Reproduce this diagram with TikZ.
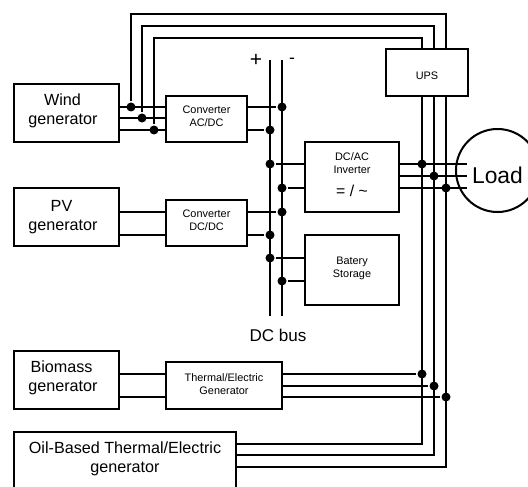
\documentclass[tikz,border=0pt]{standalone}
\usepackage{fontspec}
\setmainfont{Liberation Sans}
\usepackage{tikz}
\tikzset{
  block/.style={shape=rectangle,draw,line width=1.15pt,outer sep=0pt,align=center},
  genbox/.style={block,minimum width=2.1cm,minimum height=1.16cm,font=\fontsize{9.2}{10.8}\selectfont},
  smallbox/.style={block,font=\fontsize{6.2}{7.4}\selectfont},
  jdot/.style={shape=circle,fill=black,inner sep=0pt,minimum size=0.18cm}
}

\begin{document}
\begin{tikzpicture}[line width=1.15pt]
\useasboundingbox (0,0) rectangle (10.56,9.72);

\path (1.33,7.46) node (wind) [genbox,text depth=4.2pt] {Wind\kern0.16cm\\generator\kern0.14cm};
\path (1.33,5.38) node (pv) [genbox] {PV\kern0.2cm\\generator\kern0.14cm};
\path (1.33,2.12) node (biom) [genbox,text depth=4.2pt] {Biomass\kern0.2cm\\generator\kern0.14cm};
\path (2.50,0.48) node (oil) [genbox,minimum width=4.44cm,minimum height=1.2cm,text depth=5.3pt] {Oil-Based Thermal/Electric\\generator};

\path (4.13,7.34) node (conva) [smallbox,minimum width=1.62cm,minimum height=0.92cm,text depth=2.8pt] {Converter\\AC/DC};
\path (4.13,5.26) node (convd) [smallbox,minimum width=1.62cm,minimum height=0.92cm,text depth=2.8pt] {Converter\\DC/DC};
\path (4.48,2.01) node (therm) [smallbox,minimum width=2.32cm,minimum height=0.94cm,text depth=2pt] {Thermal/Electric\\Generator};
\path (7.04,6.18) node (inv) [smallbox,minimum width=1.88cm,minimum height=1.4cm,text depth=2.5pt] {DC/AC\\Inverter\\[0.2cm]{\fontsize{9}{9}\selectfont = / \textasciitilde}};
\path (7.04,4.32) node (batt) [smallbox,minimum width=1.88cm,minimum height=1.4cm,text depth=3pt] {Batery\\Storage};
\path (8.54,8.27) node (ups) [smallbox,minimum width=1.64cm,minimum height=0.94cm,text height=7.9pt] {UPS};
\path (9.95,6.31) node (load) [shape=circle,draw,line width=1.15pt,inner sep=0pt,outer sep=0pt,minimum size=1.66cm,text height=15pt,font=\fontsize{13}{13}\selectfont] {Load};

\path (5.12,8.52) node (plus) {\fontsize{12}{12}\selectfont +};
\path (5.84,8.50) node (minus) {\fontsize{10}{10}\selectfont -};
\path (5.56,3.02) node (dcbus) {\fontsize{9.7}{10}\selectfont DC bus};

% bus
\coordinate (ptop) at (5.40,8.52);
\coordinate (pbot) at (5.40,3.40);
\coordinate (mtop) at (5.64,8.52);
\coordinate (mbot) at (5.64,3.40);
\draw (ptop) to (pbot);
\draw (mtop) to (mbot);

% junctions
\path (2.62,7.58) node (wa) [jdot] {};
\path (2.84,7.36) node (wb) [jdot] {};
\path (3.08,7.12) node (wc) [jdot] {};
\path (5.64,7.58) node (ca1) [jdot] {};
\path (5.40,7.12) node (ca2) [jdot] {};
\path (5.64,5.48) node (cd1) [jdot] {};
\path (5.40,5.02) node (cd2) [jdot] {};
\path (5.40,6.44) node (in1) [jdot] {};
\path (5.64,5.96) node (in2) [jdot] {};
\path (5.40,4.56) node (ba1) [jdot] {};
\path (5.64,4.10) node (ba2) [jdot] {};
\path (8.44,6.44) node (ia) [jdot] {};
\path (8.68,6.20) node (ib) [jdot] {};
\path (8.92,5.96) node (ic) [jdot] {};
\path (8.44,2.24) node (ta) [jdot] {};
\path (8.68,2.00) node (tb) [jdot] {};
\path (8.92,1.78) node (tc) [jdot] {};

% wind and converter
\draw (wind.east |- wa) to (conva.west |- wa);
\draw (wind.east |- wb) to (conva.west |- wb);
\draw (wind.east |- wc) to (conva.west |- wc);
\draw (conva.east |- ca1) to (ca1);
\draw (conva.east |- ca2) to (ca2);

% pv and converter
\coordinate (pa) at (3,5.48);
\coordinate (pb) at (3,5.02);
\draw (pv.east |- pa) to (convd.west |- pa);
\draw (pv.east |- pb) to (convd.west |- pb);
\draw (convd.east |- cd1) to (cd1);
\draw (convd.east |- cd2) to (cd2);

% inverter, battery
\draw (in1) to (inv.west |- in1);
\draw (in2) to (inv.west |- in2);
\draw (ba1) to (batt.west |- ba1);
\draw (ba2) to (batt.west |- ba2);
\coordinate (la) at (9.34,6.44);
\coordinate (lb) at (9.34,6.20);
\coordinate (lc) at (9.34,5.96);
\draw (inv.east |- la) to (la);
\draw (inv.east |- lb) to (lb);
\draw (inv.east |- lc) to (lc);

% biomass and thermal
\coordinate (ga) at (3,2.24);
\coordinate (gb) at (3,1.78);
\draw (biom.east |- ga) to (therm.west |- ga);
\draw (biom.east |- gb) to (therm.west |- gb);
\draw (therm.east |- ta) to (ta);
\draw (therm.east |- tb) to (tb);
\draw (therm.east |- tc) to (tc);

% feeds to the ups
\coordinate (ka) at (8.92,9.44);
\coordinate (kb) at (8.68,9.20);
\coordinate (kc) at (8.44,8.96);
\draw (wa) |- (ka) -- (ups.north -| ka);
\draw (wb) |- (kb) -- (ups.north -| kb);
\draw (wc) |- (kc) -- (ups.north -| kc);

% oil and ups output
\coordinate (oa) at (8.44,0.84);
\coordinate (ob) at (8.68,0.62);
\coordinate (oc) at (8.92,0.38);
\draw (ups.south -| oa) -- (oa) -- (oil.east |- oa);
\draw (ups.south -| ob) -- (ob) -- (oil.east |- ob);
\draw (ups.south -| oc) -- (oc) -- (oil.east |- oc);

\end{tikzpicture}
\end{document}
